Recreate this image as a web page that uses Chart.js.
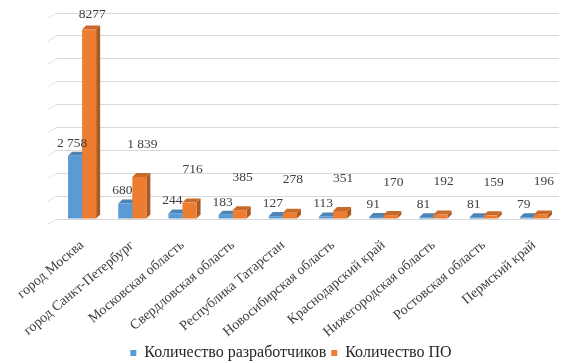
<!DOCTYPE html>
<html>
<head>
<meta charset="utf-8">
<script src="https://cdn.jsdelivr.net/npm/chart.js@4/dist/chart.umd.min.js"></script>
<style>
html,body{margin:0;padding:0;background:#fff;}
#wrap{width:563px;height:363px;}
</style>
</head>
<body>
<div id="wrap"><canvas id="c" width="563" height="363"></canvas></div>
<script>
const categories = ["город Москва","город Санкт-Петербург","Московская область","Свердловская область","Республика Татарстан","Новосибирская область","Краснодарский край","Нижегородская область","Ростовская область","Пермский край"];
const developers = [2758, 680, 244, 183, 127, 113, 91, 81, 81, 79];
const software = [8277, 1839, 716, 385, 278, 351, 170, 192, 159, 196];
const developerLabels = ["2 758","680","244","183","127","113","91","81","81","79"];
const softwareLabels = ["8277","1 839","716","385","278","351","170","192","159","196"];
const seriesNames = ["Количество разработчиков","Количество ПО"];

function shade(hex, f){
  const n = parseInt(hex.slice(1),16);
  let r=(n>>16)&255,g=(n>>8)&255,b=n&255;
  r=Math.round(Math.min(255,r*f));g=Math.round(Math.min(255,g*f));b=Math.round(Math.min(255,b*f));
  return `rgb(${r},${g},${b})`;
}

const depth = 4;
const bar3d = {
  id:'bar3d',
  beforeDatasetsDraw(chart){
    const ctx = chart.ctx;
    const ys = chart.scales.y;
    ctx.save();
    ctx.strokeStyle = '#E3E3E3';
    ctx.lineWidth = 1;
    ys.ticks.forEach(t=>{
      const py = ys.getPixelForValue(t.value);
      ctx.beginPath();
      ctx.moveTo(chart.chartArea.left-9, py+5);
      ctx.lineTo(chart.chartArea.left, py);
      ctx.stroke();
    });
    ctx.restore();
    chart.data.datasets.forEach((ds,di)=>{
      const meta = chart.getDatasetMeta(di);
      meta.data.forEach(el=>{
        const {x,y,base,width} = el.getProps(['x','y','base','width'],true);
        const l = x-width/2, r = x+width/2;
        ctx.save();
        ctx.fillStyle = shade(ds.backgroundColor,0.72);
        ctx.beginPath();
        ctx.moveTo(r,y);ctx.lineTo(r+depth,y-depth);ctx.lineTo(r+depth,base-depth);ctx.lineTo(r,base);ctx.closePath();ctx.fill();
        ctx.fillStyle = shade(ds.backgroundColor,0.85);
        ctx.beginPath();
        ctx.moveTo(l,y);ctx.lineTo(r,y);ctx.lineTo(r+depth,y-depth);ctx.lineTo(l+depth,y-depth);ctx.closePath();ctx.fill();
        ctx.restore();
      });
    });
  }
};

const labelsPlugin = {
  id:'valueLabels',
  afterDatasetsDraw(chart){
    const ctx = chart.ctx;
    const sets = [developerLabels, softwareLabels];
    ctx.save();
    ctx.font = '13.5px "Liberation Serif"';
    ctx.fillStyle = '#404040';
    ctx.textAlign = 'center';
    ctx.textBaseline = 'bottom';
    chart.data.datasets.forEach((ds,di)=>{
      const meta = chart.getDatasetMeta(di);
      meta.data.forEach((el,i)=>{
        const {x,y} = el.getProps(['x','y'],true);
        let ty, tx;
        if(di===0){ ty = y-6; tx = x-3; }
        else { ty = (i===0) ? y-8 : y-26; tx = x+3; }
        ctx.fillText(sets[di][i], tx, ty);
      });
    });
    ctx.restore();
  }
};

new Chart(document.getElementById('c'),{
  type:'bar',
  data:{
    labels:categories,
    datasets:[
      {label:seriesNames[0],data:developers,backgroundColor:'#5B9BD5',barPercentage:1.0,categoryPercentage:0.56},
      {label:seriesNames[1],data:software,backgroundColor:'#ED7D31',barPercentage:1.0,categoryPercentage:0.56}
    ]
  },
  options:{
    responsive:false,
    animation:false,
    layout:{padding:{left:23,right:4,top:13,bottom:-8}},
    plugins:{
      legend:{
        position:'bottom',
        labels:{font:{family:'Liberation Serif',size:16},color:'#262626',boxWidth:6,boxHeight:6,padding:5}
      },
      tooltip:{enabled:false}
    },
    scales:{
      x:{
        grid:{display:false},
        border:{display:false},
        afterFit(scale){ scale.height = 121; },
        ticks:{font:{family:'Liberation Serif',size:14},color:'#404040',maxRotation:40,minRotation:40,autoSkip:false,padding:10}
      },
      y:{
        min:0,max:9000,
        afterFit(scale){ scale.width = 34; },
        ticks:{display:false,stepSize:1000},
        grid:{color:'#D9D9D9',drawTicks:false},
        border:{display:false}
      }
    }
  },
  plugins:[bar3d,labelsPlugin]
});
</script>
</body>
</html>
